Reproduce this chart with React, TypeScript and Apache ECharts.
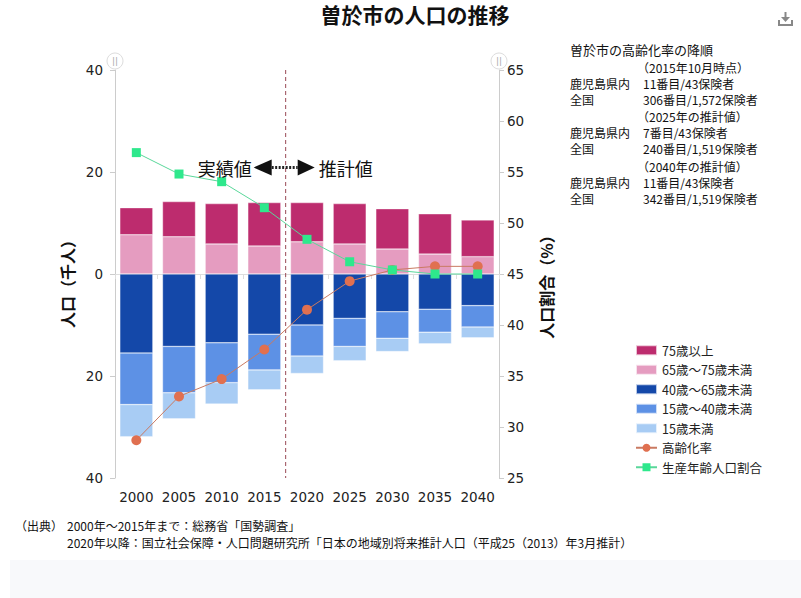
import React, { useEffect, useRef } from "react";
import * as echarts from "echarts";

const years = ["2000", "2005", "2010", "2015", "2020", "2025", "2030", "2035", "2040"];
// population in thousands
const age75plus = [5.3, 6.9, 7.9, 8.5, 7.7, 7.9, 7.9, 7.9, 7.2];
const age65to75 = [7.7, 7.3, 5.9, 5.5, 6.3, 5.9, 4.9, 3.9, 3.4];
const age40to65 = [15.5, 14.2, 13.5, 11.8, 10.0, 8.7, 7.4, 6.9, 6.2];
const age15to40 = [10.1, 9.1, 7.8, 7.0, 6.1, 5.5, 5.2, 4.5, 4.2];
const age0to15 = [6.3, 5.1, 4.2, 3.9, 3.4, 2.8, 2.6, 2.3, 2.1];
// percentages
const agingRate = [28.7, 33.0, 34.7, 37.6, 41.5, 44.3, 45.4, 45.75, 45.75];
const workingRate = [56.9, 54.8, 54.05, 51.5, 48.4, 46.2, 45.4, 45.0, 45.0];

const names = {
  a75: "75歳以上",
  a65: "65歳～75歳未満",
  a40: "40歳～65歳未満",
  a15: "15歳～40歳未満",
  a0: "15歳未満",
  aging: "高齢化率",
  working: "生産年齢人口割合",
};

const infoLines: { t: string; indent: boolean; y: number; size?: number }[] = [
  { t: "曽於市の高齢化率の降順", indent: false, y: 49, size: 13 },
  { t: "（2015年10月時点）", indent: true, y: 67 },
  { t: "鹿児島県内", indent: false, y: 83 },
  { t: "全国", indent: false, y: 99 },
  { t: "（2025年の推計値）", indent: true, y: 116 },
  { t: "鹿児島県内", indent: false, y: 132 },
  { t: "全国", indent: false, y: 148 },
  { t: "（2040年の推計値）", indent: true, y: 166 },
  { t: "鹿児島県内", indent: false, y: 182 },
  { t: "全国", indent: false, y: 198 },
];
const infoValues: { t: string; y: number }[] = [
  { t: "11番目/43保険者", y: 83 },
  { t: "306番目/1,572保険者", y: 99 },
  { t: "7番目/43保険者", y: 132 },
  { t: "240番目/1,519保険者", y: 148 },
  { t: "11番目/43保険者", y: 182 },
  { t: "342番目/1,519保険者", y: 198 },
];

const JP = '"Noto Sans CJK JP", sans-serif';
const NUM = '"DejaVu Sans", sans-serif';

export default function App() {
  const ref = useRef<HTMLDivElement>(null);
  useEffect(() => {
    document.body.style.margin = "0";
    if (!ref.current) return;
    const chart = echarts.init(ref.current, null, { renderer: "svg" });
    const neg = (arr: number[]) => arr.map((v) => -v);
    const barCommon = {
      type: "bar",
      stack: "pop",
      barWidth: 33,
      itemStyle: { borderColor: "rgba(255,255,255,0.7)", borderWidth: 0.5 },
    };
    const option: any = {
      animation: false,
      backgroundColor: "#fff",
      textStyle: { fontFamily: JP },
      grid: { left: 115, right: 302, top: 70, bottom: 120 },
      legend: {
        orient: "vertical",
        left: 635,
        top: 344,
        padding: 0,
        itemWidth: 21,
        itemHeight: 10,
        itemGap: 7,
        textStyle: { fontSize: 12.5, color: "#222", fontFamily: JP },
        data: [
          { name: names.a75, icon: "rect" },
          { name: names.a65, icon: "rect" },
          { name: names.a40, icon: "rect" },
          { name: names.a15, icon: "rect" },
          { name: names.a0, icon: "rect" },
          { name: names.aging },
          { name: names.working },
        ],
      },
      xAxis: {
        type: "category",
        data: years,
        axisLine: { lineStyle: { color: "#ddd" } },
        axisTick: { show: true, lineStyle: { color: "#ddd" }, length: 5 },
        axisLabel: { color: "#222", fontSize: 13.5, fontFamily: NUM, margin: 12, interval: 0 },
      },
      yAxis: [
        {
          type: "value",
          min: -40,
          max: 40,
          interval: 20,
          position: "left",
          axisLine: { show: true, lineStyle: { color: "#ccc" } },
          axisTick: { show: true, lineStyle: { color: "#ccc" }, length: 5 },
          splitLine: { show: false },
          axisLabel: {
            color: "#222",
            fontSize: 13.5,
            fontFamily: NUM,
            margin: 12,
            formatter: (v: number) => String(Math.abs(v)),
          },
        },
        {
          type: "value",
          min: 25,
          max: 65,
          interval: 5,
          position: "right",
          axisLine: { show: true, lineStyle: { color: "#ccc" } },
          axisTick: { show: true, lineStyle: { color: "#ccc" }, length: 5 },
          splitLine: { show: false },
          axisLabel: { color: "#222", fontSize: 13.5, fontFamily: NUM, margin: 8 },
        },
      ],
      series: [
        { ...barCommon, name: names.a65, data: age65to75, itemStyle: { ...barCommon.itemStyle, color: "#E59CC0" } },
        { ...barCommon, name: names.a75, data: age75plus, itemStyle: { ...barCommon.itemStyle, color: "#BD2C6E" } },
        { ...barCommon, name: names.a40, data: neg(age40to65), itemStyle: { ...barCommon.itemStyle, color: "#1448A9" } },
        { ...barCommon, name: names.a15, data: neg(age15to40), itemStyle: { ...barCommon.itemStyle, color: "#5D91E5" } },
        { ...barCommon, name: names.a0, data: neg(age0to15), itemStyle: { ...barCommon.itemStyle, color: "#A8CCF4" } },
        {
          type: "line",
          name: names.aging,
          yAxisIndex: 1,
          data: agingRate,
          symbol: "circle",
          symbolSize: 10,
          itemStyle: { color: "#E07050" },
          lineStyle: { color: "#C97A62", width: 1 },
          z: 5,
        },
        {
          type: "line",
          name: names.working,
          yAxisIndex: 1,
          data: workingRate,
          symbol: "rect",
          symbolSize: 9,
          itemStyle: { color: "#2EE88C" },
          lineStyle: { color: "#5AD79A", width: 1 },
          z: 6,
        },
      ],
    };
    chart.setOption(option);

    const x15 = chart.convertToPixel({ xAxisIndex: 0 }, "2015") as number;
    const x20 = chart.convertToPixel({ xAxisIndex: 0 }, "2020") as number;
    const divX = (x15 + x20) / 2;
    const yTop = chart.convertToPixel({ yAxisIndex: 0 }, 40) as number;
    const yBot = chart.convertToPixel({ yAxisIndex: 0 }, -40) as number;
    const xLeft = chart.convertToPixel({ xAxisIndex: 0 }, "2000") as number;
    const xRight = chart.convertToPixel({ xAxisIndex: 0 }, "2040") as number;
    const half = (x20 - x15) / 2;
    const axisL = xLeft - half;
    const axisR = xRight + half;
    const arrowY = 167.5;

    const txt = (x: number, y: number, text: string, size: number, extra: any = {}) => ({
      type: "text",
      x,
      y,
      z: 10,
      style: {
        text,
        font: `${extra.bold ? "bold " : ""}${size}px ${extra.family || JP}`,
        fill: extra.fill || "#111",
        align: extra.align || "left",
        verticalAlign: "middle",
        lineHeight: size,
      },
      ...(extra.rotation ? { rotation: extra.rotation } : {}),
    });

    const graphics: any[] = [
      { type: "rect", shape: { x: 10, y: 560, width: 791, height: 38 }, style: { fill: "#f8f9fb" }, silent: true, z: -1 },
      txt(415, 14, "曽於市の人口の推移", 21, { bold: true, align: "center" }),
      // download icon
      { type: "polyline", shape: { points: [[779, 20], [779, 25], [792, 25], [792, 20]] }, style: { stroke: "#888", lineWidth: 2, fill: null } },
      { type: "line", shape: { x1: 785.5, y1: 12, x2: 785.5, y2: 18 }, style: { stroke: "#888", lineWidth: 2 } },
      { type: "polygon", shape: { points: [[781, 17], [790, 17], [785.5, 22]] }, style: { fill: "#888" } },
      // axis names
      txt(67, 280, "人口（千人）", 16, { bold: true, align: "center", rotation: Math.PI / 2 }),
      txt(546, 283, "人口割合（%）", 16, { bold: true, align: "center", rotation: Math.PI / 2 }),
      // axis handles
      ...[axisL, axisR].flatMap((cx) => [
        { type: "circle", shape: { cx, cy: 61, r: 8 }, style: { fill: "#fff", stroke: "#ddd", lineWidth: 1 }, z: 10 },
        txt(cx, 61, "||", 9, { family: NUM, fill: "#aaa", align: "center" }),
      ]),
      // divider
      {
        type: "line",
        shape: { x1: divX, y1: yTop, x2: divX, y2: yBot },
        style: { stroke: "#9A4A56", lineWidth: 1, lineDash: [4, 3] },
        z: 3,
      },
      // annotation
      txt(divX - 34, arrowY, "実績値", 18, { align: "right" }),
      { type: "polygon", shape: { points: [[divX - 32, arrowY], [divX - 14, arrowY - 8], [divX - 14, arrowY + 8]] }, style: { fill: "#111" }, z: 10 },
      { type: "line", shape: { x1: divX - 14, y1: arrowY, x2: divX + 12, y2: arrowY }, style: { stroke: "#222", lineWidth: 3, lineDash: [2, 1.5] }, z: 10 },
      { type: "polygon", shape: { points: [[divX + 29, arrowY], [divX + 12, arrowY - 8], [divX + 12, arrowY + 8]] }, style: { fill: "#111" }, z: 10 },
      txt(divX + 33, arrowY, "推計値", 18),
      // info block
      ...infoLines.map((l) => txt(l.indent ? 637 : 570, l.y, l.t, l.size || 12)),
      ...infoValues.map((l) => txt(643, l.y, l.t, 12)),
      // source
      txt(15, 525, "（出典）", 12),
      txt(67, 525, "2000年～2015年まで：総務省「国勢調査」", 12),
      txt(67, 542, "2020年以降：国立社会保障・人口問題研究所「日本の地域別将来推計人口（平成25（2013）年3月推計）", 12),
    ];
    chart.setOption({ graphic: graphics });
    return () => chart.dispose();
  }, []);
  return <div ref={ref} style={{ width: 801, height: 598 }} />;
}
